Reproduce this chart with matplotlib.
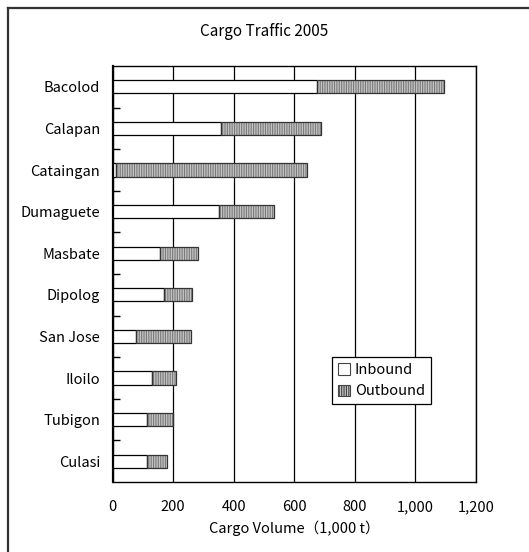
import matplotlib
matplotlib.use("Agg")
import matplotlib.pyplot as plt
from matplotlib.lines import Line2D
from matplotlib.patches import Patch
from matplotlib.ticker import FuncFormatter, FixedLocator

plt.rcParams['font.family'] = ['Noto Sans CJK JP', 'DejaVu Sans']
plt.rcParams['hatch.linewidth'] = 0.8
plt.rcParams['hatch.color'] = '#7a7a7a'

ports = ["Bacolod", "Calapan", "Cataingan", "Dumaguete", "Masbate",
         "Dipolog", "San Jose", "Iloilo", "Tubigon", "Culasi"]
inbound = [676, 357, 10, 350, 157, 169, 77, 131, 113, 113]
outbound = [417, 332, 631, 182, 124, 94, 183, 78, 87, 68]
xticks = [0, 200, 400, 600, 800, 1000, 1200]

FS = 10.5

fig = plt.figure(figsize=(5.29, 5.52), dpi=100)
ax = fig.add_axes([0.2127, 0.1268, 0.6871, 0.7536])

n = len(ports)
ypos = list(range(n))
h = 0.32
ax.barh(ypos, inbound, height=h, color='white', edgecolor='black', linewidth=0.9, zorder=3)
ax.barh(ypos, outbound, left=inbound, height=h, color='#c4c4c4', edgecolor='#7a7a7a',
        hatch='|||||||', linewidth=0, zorder=3)
ax.barh(ypos, outbound, left=inbound, height=h, color='none', edgecolor='#333333',
        linewidth=0.9, zorder=4)

ax.set_xlim(0, 1200)
ax.set_ylim(n - 0.5, -0.5)
ax.set_xticks(xticks)
ax.xaxis.set_major_formatter(FuncFormatter(lambda v, p: f"{int(v):,}"))
ax.tick_params(axis='x', length=0, pad=13, labelsize=FS)
ax.set_yticks(ypos)
ax.set_yticklabels(ports)
ax.tick_params(axis='y', which='major', length=0, pad=9, labelsize=FS)
ax.yaxis.set_minor_locator(FixedLocator([i + 0.5 for i in range(n - 1)]))
ax.tick_params(axis='y', which='minor', direction='in', length=5, width=1.0, color='black')
ax.grid(axis='x', color='black', linewidth=0.9, zorder=1)
for s in ax.spines.values():
    s.set_linewidth(1.0)
ax.spines['left'].set_linewidth(1.6)

ax.set_xlabel("Cargo Volume（1,000 t）", fontsize=FS, labelpad=5)
fig.text(0.5, 1 - 31 / 552, "Cargo Traffic 2005", ha='center', va='center', fontsize=11)

handles = [Patch(facecolor='white', edgecolor='#444444', linewidth=0.8, label='Inbound'),
           Patch(facecolor='#c4c4c4', edgecolor='#444444', hatch='|||||||', linewidth=0.8, label='Outbound')]
leg = ax.legend(handles=handles, loc='lower left', bbox_to_anchor=(0.604, 0.187),
                frameon=True, fancybox=False, edgecolor='black', framealpha=1,
                handlelength=0.85, handleheight=0.85, handletextpad=0.3, borderpad=0.4,
                labelspacing=0.5, borderaxespad=0, fontsize=FS)
leg.get_frame().set_linewidth(0.9)

fig.add_artist(Line2D([7.5 / 529, 7.5 / 529], [0, 1 - 7.5 / 552], color='#333333', linewidth=1.6, transform=fig.transFigure))
fig.add_artist(Line2D([7.5 / 529, 1], [1 - 7.5 / 552, 1 - 7.5 / 552], color='#333333', linewidth=1.6, transform=fig.transFigure))

fig.savefig("out.png", dpi=100)
